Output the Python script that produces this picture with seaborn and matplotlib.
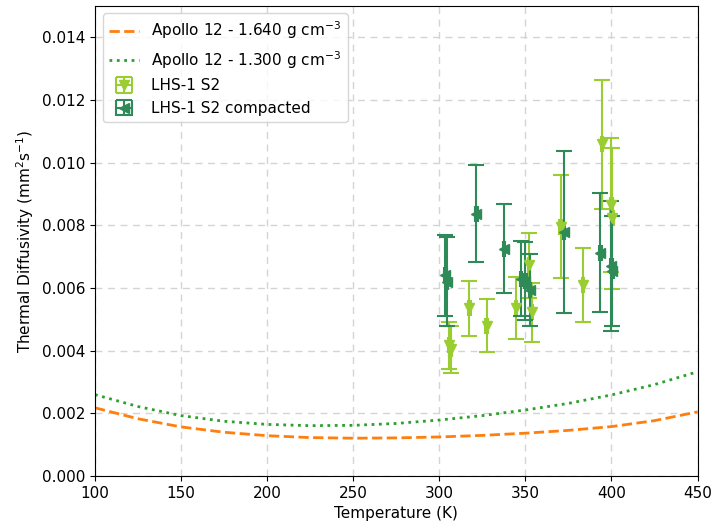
import matplotlib
matplotlib.use("Agg")
import matplotlib.pyplot as plt
import seaborn as sns
import pandas as pd

# Apollo 12 regolith model curves (temperature in K, diffusivity in mm^2/s)
model_T = [100, 125, 150, 175, 200, 225, 250, 275, 300, 325, 350, 375, 400, 425, 450]
apollo_1640 = [0.00218, 0.00183, 0.00157, 0.00140, 0.00129, 0.00123, 0.00121, 0.00122,
               0.00125, 0.00130, 0.00137, 0.00146, 0.00158, 0.00177, 0.00205]
apollo_1300 = [0.00260, 0.00222, 0.00193, 0.00175, 0.00165, 0.00161, 0.00162, 0.00168,
               0.00179, 0.00193, 0.00211, 0.00232, 0.00259, 0.00292, 0.00333]

# LHS-1 S2 measurements
s2_T = [305.5, 306.5, 317.5, 327.5, 344.5, 352.0, 354.0, 370.5, 383.5, 394.5, 400.0, 400.5]
s2_D = [0.00418, 0.00405, 0.00535, 0.00480, 0.00537, 0.00672, 0.00522, 0.00796,
        0.00610, 0.01058, 0.00865, 0.00822]
s2_err = [0.00075, 0.00075, 0.00089, 0.00085, 0.00098, 0.00105, 0.00095, 0.00164,
          0.00118, 0.00205, 0.00215, 0.00225]

# LHS-1 S2 compacted measurements
cmp_T = [303.5, 304.5, 321.5, 337.5, 347.5, 350.0, 352.5, 372.5, 393.5, 400.0, 400.5]
cmp_D = [0.00640, 0.00620, 0.00837, 0.00726, 0.00630, 0.00622, 0.00593, 0.00778,
         0.00712, 0.00670, 0.00654]
cmp_err = [0.00130, 0.00142, 0.00154, 0.00141, 0.00120, 0.00125, 0.00115, 0.00258,
           0.00190, 0.00208, 0.00176]

T_err = 0.7

sns.set_style("ticks")
plt.rcParams["font.family"] = ["DejaVu Sans"]
plt.rcParams["font.size"] = 11
plt.rcParams["text.color"] = "black"
plt.rcParams["axes.labelcolor"] = "black"
plt.rcParams["xtick.color"] = "black"
plt.rcParams["ytick.color"] = "black"

fig, ax = plt.subplots(figsize=(7.14, 5.32), dpi=100)
fig.subplots_adjust(left=0.133, right=0.977, top=0.989, bottom=0.105)

models = pd.DataFrame({"T": model_T, "a1640": apollo_1640, "a1300": apollo_1300})
sns.lineplot(data=models, x="T", y="a1640", ax=ax, color="#ff7f0e", linestyle="--",
             linewidth=2, label=r"Apollo 12 - 1.640 g cm$^{-3}$")
sns.lineplot(data=models, x="T", y="a1300", ax=ax, color="#2ca02c", linestyle=":",
             linewidth=2, label=r"Apollo 12 - 1.300 g cm$^{-3}$")

ax.errorbar(s2_T, s2_D, yerr=s2_err, xerr=T_err, fmt="v", color="yellowgreen",
            markersize=7.5, capsize=5.5, elinewidth=1.5, capthick=1.5,
            label="LHS-1 S2")
ax.errorbar(cmp_T, cmp_D, yerr=cmp_err, xerr=T_err, fmt="<", color="seagreen",
            markersize=7.5, capsize=5.5, elinewidth=1.5, capthick=1.5,
            label="LHS-1 S2 compacted")

ax.set_xlim(100, 450)
ax.set_ylim(0, 0.015)
ax.set_yticks([0.000, 0.002, 0.004, 0.006, 0.008, 0.010, 0.012, 0.014])
ax.set_xlabel("Temperature (K)")
ax.set_ylabel(r"Thermal Diffusivity (mm$^2$s$^{-1}$)")
ax.grid(True, linestyle=(0, (5, 4)), color="#d4d4d4", linewidth=1)
for s in ax.spines.values():
    s.set_visible(True)
    s.set_color("black")

ax.legend(loc="upper left", frameon=True, fontsize=11)

fig.savefig("out.png", dpi=100)
